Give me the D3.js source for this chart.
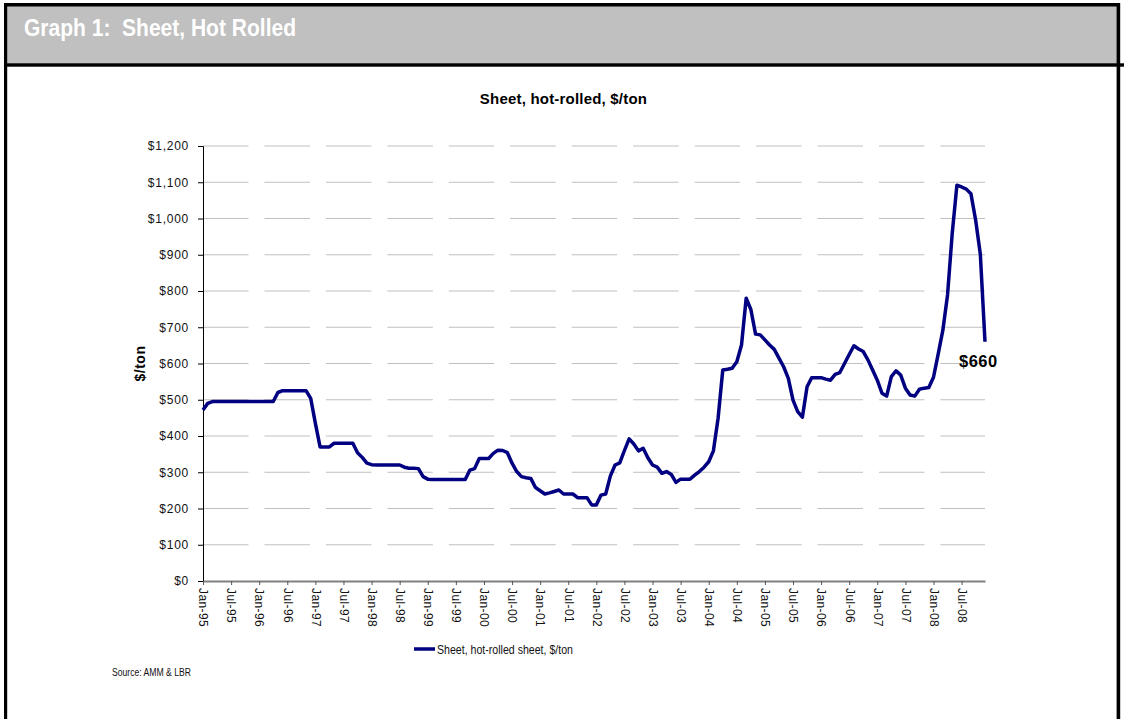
<!DOCTYPE html>
<html>
<head>
<meta charset="utf-8">
<script src="https://cdn.jsdelivr.net/npm/d3@7"></script>
<style>
  html, body { margin: 0; padding: 0; background: #fff; }
  svg { display: block; }
</style>
</head>
<body>
<svg id="chart" width="1124" height="719"></svg>
<script>
// Hot-rolled sheet price, $/ton, monthly Jan-95 .. Dec-08
const years = [1995, 1996, 1997, 1998, 1999, 2000, 2001, 2002, 2003, 2004, 2005, 2006, 2007, 2008];
const monthNames = ["Jan", "Feb", "Mar", "Apr", "May", "Jun", "Jul", "Aug", "Sep", "Oct", "Nov", "Dec"];

const price1995 = [472, 490, 495, 495, 495, 495, 495, 495, 495, 495, 495, 495];
const price1996 = [495, 495, 495, 495, 520, 525, 525, 525, 525, 525, 525, 504];
const price1997 = [435, 370, 370, 370, 380, 380, 380, 380, 380, 354, 341, 325];
const price1998 = [321, 320, 320, 320, 320, 320, 320, 314, 311, 311, 310, 288];
const price1999 = [281, 280, 280, 280, 280, 280, 280, 280, 280, 306, 310, 338];
const price2000 = [338, 338, 352, 361, 360, 354, 325, 302, 288, 285, 283, 258];
const price2001 = [249, 240, 243, 247, 251, 240, 240, 240, 230, 230, 230, 210];
const price2002 = [210, 237, 240, 290, 320, 326, 360, 392, 378, 359, 366, 340];
const price2003 = [320, 314, 297, 302, 294, 272, 281, 281, 281, 292, 302, 314];
const price2004 = [329, 359, 449, 582, 584, 587, 605, 651, 780, 749, 681, 679];
const price2005 = [665, 651, 639, 615, 591, 559, 499, 467, 452, 536, 561, 561];
const price2006 = [561, 557, 554, 570, 575, 600, 625, 649, 640, 633, 610, 582];
const price2007 = [554, 518, 510, 564, 580, 568, 532, 513, 510, 529, 532, 534];
const price2008 = [562, 626, 692, 789, 959, 1092, 1087, 1081, 1068, 996, 902, 660];

const yTicks = [0, 100, 200, 300, 400, 500, 600, 700, 800, 900, 1000, 1100, 1200];

const headerTitle = "Graph 1:  Sheet, Hot Rolled";
const chartTitle = "Sheet, hot-rolled, $/ton";
const yTitle = "$/ton";
const seriesName = "Sheet, hot-rolled sheet, $/ton";
const sourceNote = "Source: AMM & LBR";

// Build the monthly table
const priceRows = [price1995, price1996, price1997, price1998, price1999, price2000, price2001,
                   price2002, price2003, price2004, price2005, price2006, price2007, price2008];
const categories = [];
const data = [];
years.forEach((yr, yi) => {
  monthNames.forEach((m, mi) => {
    const label = m + "-" + String(yr % 100).padStart(2, "0");
    categories.push(label);
    data.push({ cat: label, value: priceRows[yi][mi] });
  });
});
const xTickLabels = categories.filter((c, i) => i % 6 === 0);

const svg = d3.select("#chart");
const W = 1124, H = 719;
const sans = "'Liberation Sans', Arial, Helvetica, sans-serif";

// Page frame and header band
svg.append("rect").attr("x", 0).attr("y", 0).attr("width", W).attr("height", H).attr("fill", "#fff");
svg.append("rect").attr("x", 7).attr("y", 6).attr("width", 1110).attr("height", 58).attr("fill", "#c0c0c0");
svg.append("rect").attr("x", 4).attr("y", 3).attr("width", 1116).attr("height", 3.5).attr("fill", "#000");
svg.append("rect").attr("x", 4).attr("y", 3).attr("width", 3.2).attr("height", H).attr("fill", "#000");
svg.append("rect").attr("x", 1116.6).attr("y", 3).attr("width", 3.6).attr("height", H).attr("fill", "#000");
svg.append("rect").attr("x", 4).attr("y", 63.3).attr("width", W - 4).attr("height", 3.4).attr("fill", "#000");

// Header caption in a condensed bold face
svg.append("text")
  .attr("x", 24).attr("y", 36)
  .attr("fill", "#fff")
  .attr("textLength", 272)
  .attr("lengthAdjust", "spacingAndGlyphs")
  .style("white-space", "pre")
  .style("font-family", sans)
  .style("font-weight", "bold")
  .style("font-size", "23px")
  .text(headerTitle);

// Scales
const plotLeft = 203, plotRight = 985, plotTop = 146, plotBottom = 581;
const x = d3.scalePoint().domain(categories).range([plotLeft, plotRight]);
const y = d3.scaleLinear().domain([0, 1200]).range([plotBottom, plotTop]);

// Chart title
svg.append("text")
  .attr("x", 563.5).attr("y", 104)
  .attr("text-anchor", "middle")
  .style("font-family", sans)
  .style("font-weight", "bold")
  .style("font-size", "15px")
  .style("letter-spacing", "0.2px")
  .text(chartTitle);

// Horizontal gridlines
svg.append("g")
  .selectAll("line")
  .data(yTicks.filter(v => v > 0))
  .join("line")
  .attr("x1", plotLeft).attr("x2", plotRight)
  .attr("y1", d => y(d)).attr("y2", d => y(d))
  .attr("stroke", "#c0c0c0")
  .attr("stroke-width", 1)
  .attr("stroke-dasharray", "45.5,15.95");

// Y axis
const yAxis = svg.append("g")
  .attr("transform", `translate(${plotLeft},0)`)
  .call(d3.axisLeft(y).tickValues(yTicks).tickSize(5).tickPadding(9)
    .tickFormat(d => "$" + d3.format(",")(d)));
yAxis.select(".domain").attr("stroke", "#000").attr("stroke-width", 1);
yAxis.selectAll(".tick line").attr("stroke", "#000");
yAxis.selectAll(".tick text")
  .attr("fill", "#111")
  .style("font-family", sans)
  .style("font-size", "12px")
  .style("letter-spacing", "0.75px");

// X axis
const xAxis = svg.append("g")
  .attr("transform", `translate(0,${plotBottom})`)
  .call(d3.axisBottom(x).tickValues(xTickLabels).tickSize(4).tickSizeOuter(0));
xAxis.select(".domain").attr("stroke", "#808080").attr("stroke-width", 2);
xAxis.selectAll(".tick line").attr("stroke", "#555");
xAxis.selectAll(".tick text")
  .attr("fill", "#111")
  .attr("transform", "rotate(90)")
  .attr("x", 7).attr("y", 0).attr("dy", "0.35em")
  .attr("text-anchor", "start")
  .style("font-family", sans)
  .style("font-size", "12px")
  .style("letter-spacing", "0.4px");

// Y axis title
svg.append("text")
  .attr("transform", `translate(145,${(plotTop + plotBottom) / 2}) rotate(-90)`)
  .attr("text-anchor", "middle")
  .style("font-family", sans)
  .style("font-weight", "bold")
  .style("font-size", "14px")
  .style("letter-spacing", "0.5px")
  .text(yTitle);

// Price line
const line = d3.line().x(d => x(d.cat)).y(d => y(d.value));
svg.append("path")
  .datum(data)
  .attr("d", line)
  .attr("fill", "none")
  .attr("stroke", "#000080")
  .attr("stroke-width", 3.5)
  .attr("stroke-linejoin", "round");

// Latest value callout
const last = data[data.length - 1];
svg.append("text")
  .attr("x", x(last.cat) - 26).attr("y", y(last.value) + 25)
  .style("font-family", sans)
  .style("font-weight", "bold")
  .style("font-size", "16.5px")
  .style("letter-spacing", "0.5px")
  .text("$" + last.value);

// Legend
svg.append("line")
  .attr("x1", 414).attr("x2", 435).attr("y1", 649).attr("y2", 649)
  .attr("stroke", "#000080").attr("stroke-width", 3.5);
svg.append("text")
  .attr("x", 437).attr("y", 654)
  .attr("fill", "#111")
  .attr("textLength", 136)
  .attr("lengthAdjust", "spacingAndGlyphs")
  .style("font-family", sans)
  .style("font-size", "13.5px")
  .text(seriesName);

// Source note
svg.append("text")
  .attr("x", 112).attr("y", 676)
  .attr("fill", "#111")
  .attr("textLength", 79)
  .attr("lengthAdjust", "spacingAndGlyphs")
  .style("font-family", sans)
  .style("font-size", "10px")
  .text(sourceNote);
</script>
</body>
</html>
